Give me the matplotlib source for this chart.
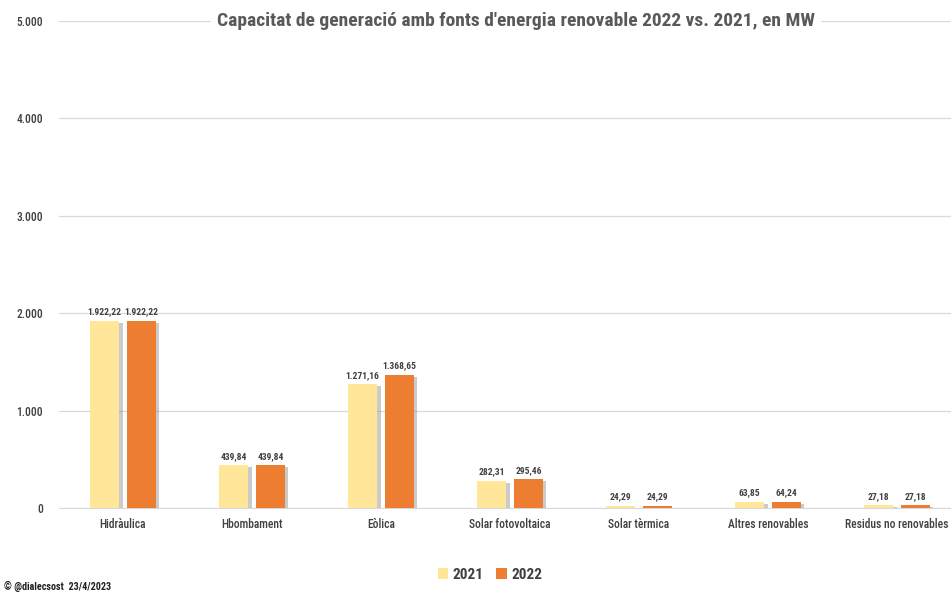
import matplotlib
matplotlib.use("Agg")
import matplotlib.pyplot as plt
import matplotlib.patheffects as pe
from matplotlib.patches import Patch
import numpy as np
from matplotlib import font_manager

categories = ["Hidràulica", "Hbombament", "Eòlica", "Solar fotovoltaica",
              "Solar tèrmica", "Altres renovables", "Residus no renovables"]
v2021 = [1922.22, 439.84, 1271.16, 282.31, 24.29, 63.85, 27.18]
v2022 = [1922.22, 439.84, 1368.65, 295.46, 24.29, 64.24, 27.18]
labels2021 = ["1.922,22", "439,84", "1.271,16", "282,31", "24,29", "63,85", "27,18"]
labels2022 = ["1.922,22", "439,84", "1.368,65", "295,46", "24,29", "64,24", "27,18"]
yticks = [0, 1000, 2000, 3000, 4000, 5000]
yticklabels = ["0", "1.000", "2.000", "3.000", "4.000", "5.000"]
series = ["2021", "2022"]
colors = ["#FFE699", "#ED7D31"]

names = {f.name for f in font_manager.fontManager.ttflist}
fam = None
for cand in ["Roboto Condensed", "Liberation Sans Narrow", "Open Sans Condensed",
             "Arial Narrow", "DejaVu Sans Condensed"]:
    if cand in names:
        fam = cand
        break
if fam is None:
    fam = "DejaVu Sans"
    plt.rcParams['font.stretch'] = 'condensed'
plt.rcParams['font.family'] = [fam, 'DejaVu Sans']

W, H = 951, 592
fig = plt.figure(figsize=(W/100, H/100), dpi=100)
ax = fig.add_axes([58.5/W, 1-508/H, (961.5-58.5)/W, (508-21)/H])

x = np.arange(len(categories))
bw = 0.225
off = 0.143
shadow = [pe.SimplePatchShadow(offset=(2.5, -1.5), shadow_rgbFace="#7f7f7f", alpha=0.4), pe.Normal()]
for vals, labs, c, s, d in [(v2021, labels2021, colors[0], series[0], -off),
                            (v2022, labels2022, colors[1], series[1], off)]:
    bars = ax.bar(x + d, vals, bw, color=c, zorder=3)
    for b in bars:
        b.set_path_effects(shadow)
    for xi, v, l in zip(x + d, vals, labs):
        ax.text(xi, v + 45, l, ha="center", va="bottom", fontsize=6.8, fontweight="bold",
                color="#404040", zorder=4)

ax.set_xlim(-0.5, len(categories) - 0.5)
ax.set_ylim(0, 5000)
ax.set_yticks(yticks)
ax.set_yticklabels(yticklabels)
ax.set_xticks(x)
ax.set_xticklabels(categories)
ax.tick_params(axis="both", length=0, labelsize=8.3, colors="#404040")
ax.tick_params(axis="y", pad=11)
ax.tick_params(axis="x", pad=7)
for t in ax.get_xticklabels() + ax.get_yticklabels():
    t.set_fontweight("medium")
ax.grid(axis="y", color="#D9D9D9", linewidth=0.9, zorder=0)
for sp in ["top", "right", "left"]:
    ax.spines[sp].set_visible(False)
ax.spines["bottom"].set_color("#D9D9D9")

fig.text(516/W, 1-21/H, "Capacitat de generació amb fonts d'energia renovable 2022 vs. 2021, en MW",
         ha="center", va="center", fontsize=14, fontweight="bold", color="#595959",
         bbox=dict(facecolor="white", edgecolor="none", pad=4), zorder=10)

handles = [Patch(facecolor=c, label=s) for c, s in zip(colors, series)]
fig.legend(handles=handles, loc="center", bbox_to_anchor=(490/W, 1-575/H), ncol=2,
           frameon=False, prop={"size": 11, "weight": "bold"}, handlelength=0.7,
           handleheight=0.7, handletextpad=0.3, columnspacing=0.8, labelcolor="#404040")

fig.text(4/W, 1-586/H, "© @dialecsost  23/4/2023", ha="left", va="center",
         fontsize=7.3, fontweight="bold", color="#222222")

fig.savefig("out.png", dpi=100)
